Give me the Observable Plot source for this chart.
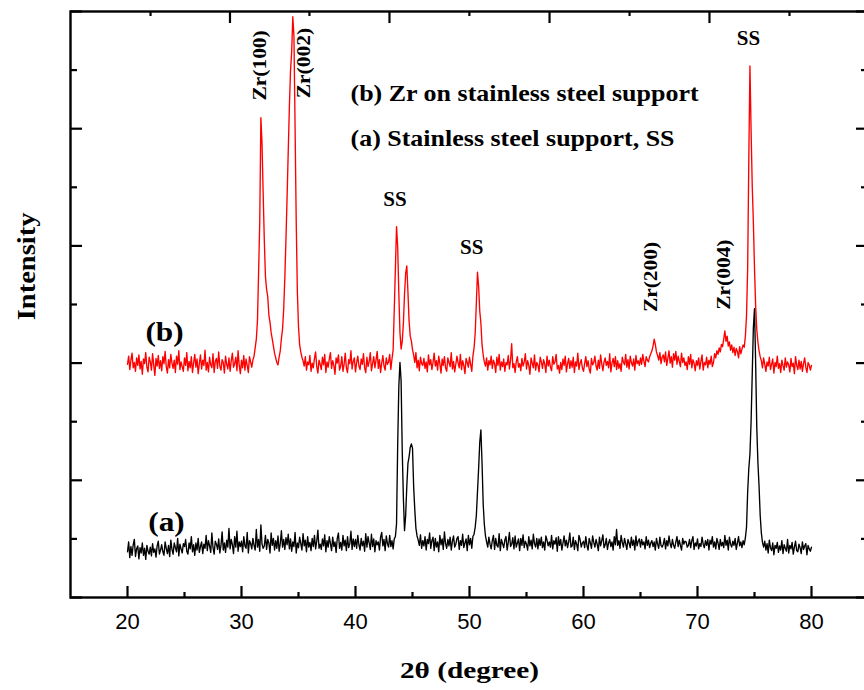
<!DOCTYPE html>
<html><head><meta charset="utf-8">
<script src="https://cdn.jsdelivr.net/npm/d3@7"></script>
<script src="https://cdn.jsdelivr.net/npm/@observablehq/plot@0.6"></script>
<style>html,body{margin:0;padding:0;background:#fff;overflow:hidden;width:864px;height:690px}</style>
</head><body><div id="chart"></div>
<script>
// 2θ grid of the scans (degrees)
const twoThetaStart = 20;
const twoThetaStep = 0.1;

// (b) Zr on stainless steel support — intensity (a.u.), one row per degree from 20 to 80
const intensityB = [
398,412,389,405,417,392,401,386,409,396,
414,390,403,381,407,399,418,393,385,410,
402,388,416,397,379,408,395,413,391,404,
387,411,399,420,394,383,406,392,415,400,
391,405,384,412,398,421,389,402,394,386,
409,396,418,387,403,392,411,384,400,415,
393,407,382,399,414,390,405,396,422,388,
401,385,410,397,392,416,384,403,408,391,
419,395,388,406,401,383,412,398,390,409,
386,404,417,393,399,410,387,421,396,382,
405,392,413,388,407,396,384,411,402,393,
405,412,426,441,472,555,640,819,775,690,
610,548,526,514,482,470,452,441,429,417,
409,401,397,410,421,442,458,492,545,612,
684,762,838,899,931,991,958,802,641,522,
462,431,419,410,404,395,411,388,402,397,
413,386,400,392,408,419,394,383,405,398,
389,410,397,415,384,402,393,407,418,391,
404,396,381,409,400,414,388,395,411,386,
398,417,392,384,406,399,421,390,403,409,
385,401,412,395,389,407,398,416,392,384,
410,394,403,418,387,399,411,392,405,420,
391,406,384,400,413,395,388,409,398,402,
415,389,407,422,491,562,633,598,519,452,
424,437,468,518,553,566,521,472,446,438,
423,414,401,418,392,405,387,410,399,396,
408,391,402,385,414,397,406,389,401,417,
395,404,388,412,399,383,407,396,411,392,
386,409,401,394,418,390,403,385,398,412,
400,392,415,389,404,396,382,408,401,393,
410,398,386,412,426,451,502,555,531,489,
468,431,414,402,395,409,388,404,397,412,
391,405,399,384,410,396,415,388,402,394,
407,386,401,397,413,390,405,433,392,399,
384,402,411,393,399,387,408,395,402,416,
390,404,396,381,409,400,392,414,388,401,
397,385,410,402,391,406,398,384,412,395,
405,393,387,411,398,402,415,390,396,383,
401,389,407,396,412,385,399,408,391,404,
393,410,384,402,395,417,389,400,406,392,
386,399,411,394,404,390,383,408,397,401,
412,395,388,405,391,414,399,387,402,409,
396,403,392,416,385,400,408,394,411,389,
404,391,399,386,410,402,397,415,393,406,
390,412,401,395,407,388,413,399,404,396,
409,398,415,403,394,411,405,402,411,416,
421,429,441,432,419,413,405,418,399,410,
414,402,419,396,408,421,400,411,393,416,
405,420,398,412,403,394,417,401,409,396,
402,389,411,398,415,392,406,400,387,404,
396,409,390,403,414,388,401,397,410,392,
405,398,412,394,401,416,409,421,415,426,
419,432,428,441,455,437,446,429,436,422,
431,418,427,413,425,420,409,428,416,424,
431,427,446,481,562,748,907,798,703,641,
562,498,457,436,421,411,404,392,409,398,
386,402,395,410,389,398,407,383,401,394,
412,391,399,384,405,396,388,409,393,402,
397,385,408,394,400,382,411,396,389,405,
390,403,386,399,409,393,384,401,397,388,
396
];

// (a) Stainless steel support — intensity (a.u.), one row per degree from 20 to 80
const intensityA = [
78,95,68,87,72,90,99,70,83,88,
66,85,76,93,72,84,65,89,79,74,
86,71,92,77,83,69,88,96,74,81,
90,78,72,95,84,75,89,70,98,82,
74,93,85,78,101,71,91,83,76,92,
87,99,79,74,93,83,104,78,90,72,
93,81,101,77,87,95,75,91,84,106,
80,97,88,77,110,85,74,96,91,82,
100,76,89,112,81,93,77,98,86,118,
83,99,90,75,104,86,113,79,95,87,
96,78,104,88,84,111,76,97,92,83,
101,89,81,116,86,99,79,124,91,84,
88,106,82,99,93,76,110,89,101,81,
97,84,105,79,92,114,86,99,82,102,
90,108,83,100,79,95,87,111,76,93,
85,103,92,81,109,88,98,78,104,86,
94,80,101,87,106,83,96,115,84,91,
82,100,88,107,78,97,86,104,92,80,
103,87,95,77,101,110,84,94,81,106,
88,98,80,104,85,92,113,82,100,87,
99,84,106,90,81,101,88,96,79,109,
86,104,93,82,108,87,100,78,97,90,
95,81,103,111,88,99,80,105,92,86,
106,87,97,83,100,104,126,260,360,401,
370,250,170,114,140,190,229,240,256,262,
255,190,150,118,105,98,89,107,84,97,
88,104,81,99,92,110,84,97,103,80,
101,86,95,78,106,90,100,82,112,92,
84,99,88,103,81,96,105,86,91,101,
104,82,97,89,108,85,93,100,80,106,
90,101,84,104,108,120,140,180,220,265,
286,230,160,125,105,95,86,103,91,83,
97,106,82,101,89,86,109,80,99,92,
85,98,104,81,94,111,87,91,102,83,
105,86,93,100,80,101,89,107,85,96,
91,81,104,88,98,83,108,92,86,101,
83,100,89,103,85,95,81,105,98,88,
95,86,106,83,97,91,102,79,104,89,
99,81,93,105,88,98,85,95,110,86,
88,103,82,97,91,80,106,99,86,93,
96,85,104,89,81,101,93,84,105,94,
86,99,91,80,103,88,97,107,85,90,
101,82,93,99,87,95,81,104,90,116,
89,97,84,106,94,86,101,92,82,99,
93,85,103,89,98,81,105,88,96,100,
86,99,90,95,83,104,89,98,85,93,
97,87,95,81,101,91,84,103,89,86,
91,101,83,97,88,105,92,85,99,89,
84,95,104,87,98,89,81,101,91,96,
95,86,89,99,85,97,104,82,93,88,
100,83,92,87,103,91,85,97,89,99,
81,98,91,104,86,95,83,101,93,82,
99,88,94,85,106,89,98,81,103,91,
86,96,89,101,82,93,104,88,95,85,
97,90,102,120,180,220,245,300,380,460,
493,400,290,230,190,140,110,94,86,96,
81,92,76,98,85,80,93,73,89,84,
94,77,88,81,97,75,90,84,79,99,
76,89,83,94,74,86,96,80,78,91,
85,75,95,82,88,92,73,89,83,79,
86
];

// annotation texts and their anchor positions (data units)
const curveLabels = ["(b)", "(a)"];
const curveLabelX = [23.25, 23.42];
const curveLabelY = [437, 114];

const legendLines = ["(b) Zr on stainless steel support", "(a) Stainless steel support, SS"];
const legendX = [39.56, 39.56];
const legendY = [848, 770];

const ssLabels = ["SS", "SS", "SS"];
const ssX = [74.47, 43.46, 50.2];
const ssY = [942, 668, 587];

const zrLabels = ["Zr(100)", "Zr(002)", "Zr(200)", "Zr(004)"];
const zrX = [32.18, 36.04, 66.45, 72.88];
const zrY = [908, 912, 547, 551];

// axis ticks
const xMajorTicks = [20, 30, 40, 50, 60, 70, 80];
const xMinorTicks = [25, 35, 45, 55, 65, 75];
const topMajorTicks = [28.99, 42.98, 57.02, 71.05];
const topMinorTicks = [22.02, 35.96, 49.99, 64.04, 78.07];
const yMajorTicks = [0, 200, 400, 600, 800, 1000];
const yMinorTicks = [100, 300, 500, 700, 900];

const serif = "'Liberation Serif', 'Times New Roman', serif";

const toSeries = (arr) => arr.map((v, i) => ({t: +(twoThetaStart + i * twoThetaStep).toFixed(1), v}));
const seriesA = toSeries(intensityA);
const seriesB = toSeries(intensityB);

const W = 872, H = 690;
const mL = 70, mR = 4, mT = 11, mB = 93;
const fW = W - mL - mR, fH = H - mT - mB;

const plot = Plot.plot({
  width: W, height: H,
  marginLeft: mL, marginRight: mR, marginTop: mT, marginBottom: mB,
  style: {background: "white", maxWidth: "none", color: "black"},
  x: {domain: [15, 85]},
  y: {domain: [0, 1000], axis: null},
  marks: [
    Plot.line(seriesB, {x: "t", y: "v", stroke: "#ff0000", strokeWidth: 1.35}),
    Plot.line(seriesA, {x: "t", y: "v", stroke: "#000000", strokeWidth: 1.35}),
    Plot.frame({stroke: "black", strokeWidth: 2.4}),
    Plot.tickX(xMajorTicks, {x: d => d, insetTop: fH - 11, stroke: "black", strokeWidth: 2.2}),
    Plot.tickX(xMinorTicks, {x: d => d, insetTop: fH - 5, stroke: "black", strokeWidth: 2.2}),
    Plot.tickX(topMajorTicks, {x: d => d, insetBottom: fH - 12, stroke: "black", strokeWidth: 2.2}),
    Plot.tickX(topMinorTicks, {x: d => d, insetBottom: fH - 5, stroke: "black", strokeWidth: 2.2}),
    Plot.tickY(yMajorTicks, {y: d => d, insetRight: fW - 12, stroke: "black", strokeWidth: 2.2}),
    Plot.tickY(yMinorTicks, {y: d => d, insetRight: fW - 7, stroke: "black", strokeWidth: 2.2}),
    Plot.tickY(yMajorTicks, {y: d => d, insetLeft: fW - 12, stroke: "black", strokeWidth: 2.2}),
    Plot.tickY(yMinorTicks, {y: d => d, insetLeft: fW - 7, stroke: "black", strokeWidth: 2.2}),
    Plot.axisX(xMajorTicks, {tickSize: 0, tickPadding: 16, fontSize: 22, fontFamily: "'Liberation Sans', Arial, sans-serif", label: null, tickFormat: d => String(d)}),
    // 1 legend lines
    Plot.text(legendLines, {x: (d, i) => legendX[i], y: (d, i) => legendY[i], text: d => d, textAnchor: "start", lineAnchor: "bottom", fontSize: 23, fontFamily: serif, fontWeight: "bold"}),
    // 2 curve labels
    Plot.text(curveLabels, {x: (d, i) => curveLabelX[i], y: (d, i) => curveLabelY[i], text: d => d, textAnchor: "middle", lineAnchor: "bottom", fontSize: 28, fontFamily: serif, fontWeight: "bold"}),
    // 3 SS labels
    Plot.text(ssLabels, {x: (d, i) => ssX[i], y: (d, i) => ssY[i], text: d => d, textAnchor: "middle", lineAnchor: "bottom", fontSize: 21, fontFamily: serif, fontWeight: "bold"}),
    // 4 Zr labels (rotated)
    Plot.text(zrLabels, {x: (d, i) => zrX[i], y: (d, i) => zrY[i], text: d => d, rotate: -90, textAnchor: "middle", lineAnchor: "bottom", fontSize: 19.5, fontFamily: serif, fontWeight: "bold"}),
    // 5 y title
    Plot.text(["Intensity"], {y: [565], frameAnchor: "left", dx: -36, text: d => d, rotate: -90, textAnchor: "middle", lineAnchor: "bottom", fontSize: 25, fontFamily: serif, fontWeight: "bold"}),
    // 6 x title
    Plot.text(["2θ (degree)"], {x: [50], frameAnchor: "bottom", dy: 80, text: d => d, textAnchor: "middle", lineAnchor: "bottom", fontSize: 24, fontFamily: serif, fontWeight: "bold"})
  ]
});

// widen serif glyphs to match the reference's typeface proportions
const stretch = [1.13, 1.12, 1.0, 1.1, 1.14, 1.22];
plot.querySelectorAll('g[aria-label="text"]').forEach((g, k) => {
  const s = stretch[k] ?? 1;
  g.querySelectorAll("text").forEach(t => {
    const tr = t.getAttribute("transform") || "";
    t.setAttribute("transform", tr + ` scale(${s},1)`);
  });
});
plot.querySelectorAll('g[aria-label="x-axis tick label"] text').forEach(t => t.setAttribute("fill", "black"));

document.getElementById("chart").appendChild(plot);
</script>
</body></html>
